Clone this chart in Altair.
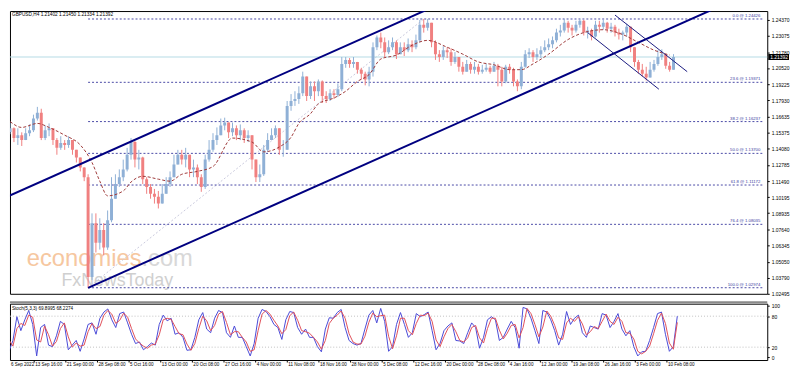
import json
import altair as alt
import pandas as pd

# ---------------- data ----------------
symbol_header = "GBPUSD,H4  1.21402 1.21450 1.21334 1.21392"
stoch_header = "Stoch(5,3,3) 69.8995 68.2274"

first_open = 1.1540
close = [1.1570,1.1492,1.1515,1.1476,1.1531,1.1554,1.1648,1.1694,1.1492,1.1554,
         1.1570,1.1476,1.1414,1.1453,1.1437,1.1476,1.1398,1.1336,1.1258,1.1180,
         1.0384,1.0813,1.0657,1.0758,1.0618,1.0836,1.1008,1.1125,1.1180,1.1242,
         1.1359,1.1460,1.1320,1.1336,1.1164,1.1102,1.1047,1.1024,1.0969,1.1047,
         1.1125,1.1180,1.1281,1.1359,1.1320,1.1359,1.1242,1.1258,1.1180,1.1102,
         1.1320,1.1398,1.1476,1.1515,1.1593,1.1616,1.1538,1.1570,1.1515,1.1554,
         1.1492,1.1515,1.1320,1.1180,1.1203,1.1398,1.1476,1.1515,1.1570,1.1398,
         1.1398,1.1749,1.1788,1.1804,1.1850,1.1983,1.1827,1.1905,1.1866,1.1944,
         1.1827,1.1804,1.1850,1.1835,1.1882,1.2084,1.2116,1.2084,1.2100,1.2038,
         1.2006,1.1960,1.2022,1.2217,1.2295,1.2256,1.2178,1.2217,1.2256,1.2162,
         1.2217,1.2194,1.2240,1.2217,1.2272,1.2396,1.2373,1.2412,1.2256,1.2162,
         1.2139,1.2194,1.2178,1.2100,1.2139,1.2061,1.2022,1.2084,1.2038,1.2061,
         1.2022,1.2038,1.2053,1.2022,1.2069,1.2038,1.1944,1.2061,1.2038,1.1944,
         1.1905,1.2061,1.2162,1.2178,1.2139,1.2162,1.2194,1.2217,1.2240,1.2272,
         1.2334,1.2350,1.2412,1.2373,1.2350,1.2396,1.2428,1.2334,1.2350,1.2303,
         1.2396,1.2381,1.2412,1.2365,1.2381,1.2334,1.2318,1.2334,1.2381,1.2217,
         1.2100,1.2038,1.2006,1.1975,1.2038,1.2084,1.2139,1.2162,1.2069,1.2038,
         1.2139]
high = [1.1616,1.1577,1.1570,1.1538,1.1570,1.1601,1.1679,1.1741,1.1726,1.1593,
        1.1609,1.1570,1.1492,1.1507,1.1476,1.1507,1.1476,1.1398,1.1336,1.1258,
        1.1203,1.0891,1.0891,1.0852,1.0813,1.0914,1.1180,1.1203,1.1242,1.1320,
        1.1414,1.1492,1.1468,1.1398,1.1343,1.1180,1.1125,1.1086,1.1070,1.1125,
        1.1180,1.1226,1.1359,1.1398,1.1398,1.1414,1.1359,1.1320,1.1281,1.1203,
        1.1359,1.1476,1.1531,1.1577,1.1648,1.1655,1.1616,1.1616,1.1593,1.1601,
        1.1570,1.1554,1.1515,1.1320,1.1281,1.1437,1.1531,1.1570,1.1593,1.1570,
        1.1476,1.1788,1.1843,1.1866,1.1905,1.2022,1.1983,1.1944,1.1944,1.1960,
        1.1952,1.1866,1.1882,1.1882,1.1928,1.2139,1.2139,1.2131,1.2139,1.2100,
        1.2053,1.2022,1.2061,1.2256,1.2311,1.2334,1.2295,1.2272,1.2295,1.2272,
        1.2256,1.2256,1.2287,1.2272,1.2318,1.2435,1.2443,1.2443,1.2412,1.2272,
        1.2194,1.2225,1.2217,1.2209,1.2178,1.2139,1.2100,1.2116,1.2100,1.2100,
        1.2084,1.2077,1.2084,1.2069,1.2100,1.2084,1.2061,1.2077,1.2084,1.2053,
        1.1960,1.2100,1.2194,1.2209,1.2194,1.2209,1.2225,1.2272,1.2287,1.2303,
        1.2365,1.2396,1.2443,1.2428,1.2396,1.2428,1.2440,1.2435,1.2381,1.2365,
        1.2428,1.2428,1.2435,1.2420,1.2412,1.2396,1.2365,1.2350,1.2404,1.2381,
        1.2217,1.2116,1.2084,1.2061,1.2100,1.2116,1.2194,1.2201,1.2162,1.2100,
        1.2162]
low = [1.1523,1.1460,1.1437,1.1429,1.1476,1.1507,1.1540,1.1632,1.1476,1.1476,
       1.1507,1.1437,1.1359,1.1398,1.1398,1.1414,1.1359,1.1297,1.1226,1.1148,
       1.0297,1.0360,1.0579,1.0602,1.0556,1.0600,1.0820,1.1008,1.1102,1.1148,
       1.1226,1.1320,1.1258,1.1242,1.1125,1.1047,1.1008,1.0969,1.0930,1.0969,
       1.1047,1.1102,1.1180,1.1281,1.1281,1.1258,1.1180,1.1180,1.1125,1.1063,
       1.1086,1.1304,1.1382,1.1437,1.1515,1.1554,1.1492,1.1507,1.1476,1.1476,
       1.1453,1.1460,1.1242,1.1141,1.1141,1.1190,1.1382,1.1476,1.1492,1.1359,
       1.1343,1.1398,1.1710,1.1749,1.1765,1.1827,1.1788,1.1804,1.1788,1.1827,
       1.1772,1.1772,1.1788,1.1804,1.1819,1.1866,1.2053,1.2053,1.2053,1.2006,
       1.1960,1.1913,1.1905,1.1983,1.2194,1.2209,1.2139,1.2162,1.2194,1.2123,
       1.2162,1.2147,1.2178,1.2178,1.2201,1.2256,1.2334,1.2350,1.2217,1.2116,
       1.2100,1.2116,1.2131,1.2069,1.2084,1.2022,1.1999,1.2022,1.2006,1.2006,
       1.1999,1.2006,1.2022,1.2006,1.2022,1.1905,1.1905,1.1930,1.2006,1.1905,
       1.1866,1.1882,1.2053,1.2131,1.2100,1.2116,1.2131,1.2178,1.2194,1.2209,
       1.2256,1.2303,1.2334,1.2334,1.2311,1.2334,1.2373,1.2311,1.2287,1.2272,
       1.2295,1.2334,1.2357,1.2334,1.2334,1.2303,1.2279,1.2272,1.2303,1.2178,
       1.2061,1.2006,1.1983,1.1952,1.1975,1.2022,1.2069,1.2116,1.2045,1.2022,
       1.2038]

ma_idx = [0,3,7,10,14,18,21,23,25,29,31,34,38,41,44,48,52,57,62,65,
          69,72,74,77,79,83,86,89,92,95,99,103,107,112,116,120,124,128,131,134,
          138,143,147,152,157,161,165,169]
ma_val = [1.1624,1.1577,1.1609,1.1577,1.1515,1.1437,1.1297,1.1148,1.1031,1.1070,
          1.1141,1.1187,1.1164,1.1148,1.1203,1.1226,1.1265,1.1492,1.1460,1.1382,
          1.1421,1.1499,1.1609,1.1687,1.1765,1.1812,1.1866,1.1944,1.1999,1.2123,
          1.2155,1.2233,1.2272,1.2217,1.2162,1.2100,1.2077,1.2038,1.2038,1.2084,
          1.2162,1.2279,1.2334,1.2357,1.2318,1.2256,1.2194,1.2155]

stoch_k = [55,12,33,79,52,73,91,64,3,58, 64,24,21,42,70,64,15,24,33,12,
           36,64,67,45,76,88,94,73,58,85, 88,67,45,27,30,15,21,28,24,64,
           82,71,76,45,48,39,14,15,39,73, 87,55,48,76,91,87,48,39,61,39,
           39,21,3,27,76,93,89,79,64,58, 35,73,89,87,58,45,55,39,39,21,
           11,55,77,76,87,93,58,33,27,24, 27,55,82,91,67,95,70,12,21,64,
           87,64,39,48,85,79,83,88,52,15, 27,52,61,67,33,32,27,48,67,58,
           18,39,73,79,73,33,39,55,70,58, 18,97,94,76,52,27,91,88,73,52,
           24,45,89,64,76,82,48,39,61,58, 55,85,82,58,70,85,55,42,52,21,
           3,11,12,33,58,85,88,45,12,21, 80]
stoch_d = [60,34,22,56,66,62,82,78,34,30, 61,44,22,31,56,67,40,20,28,22,
           24,50,66,56,60,82,91,84,66,72, 86,78,56,36,28,22,18,24,26,44,
           73,76,74,60,46,44,26,14,27,56, 80,71,52,62,84,89,68,44,50,50,
           39,30,12,15,52,84,91,84,72,61, 46,54,81,88,72,52,50,47,39,30,
           16,33,66,76,82,90,76,46,30,26, 26,41,68,86,79,81,82,41,17,42,
           76,76,52,44,66,82,81,86,70,34, 21,40,56,64,50,33,30,38,58,62,
           38,28,56,76,76,53,36,47,62,64, 38,58,95,85,64,40,59,90,80,62,
           38,35,67,76,70,79,65,44,50,60, 56,70,84,70,64,78,70,48,47,36,
           12,7,12,22,46,72,86,66,28,16, 68]

fib_pct = ["0.0", "23.6", "38.2", "50.0", "61.8", "76.4", "100.0"]
fib_price = [1.24426, 1.19371, 1.16237, 1.13700, 1.11172, 1.08035, 1.02974]
fib_start_idx = 20
last_price = 1.21392

price_ticks = [1.24370, 1.23075, 1.21780, 1.20520, 1.19225, 1.17930, 1.16635,
               1.15375, 1.14080, 1.12785, 1.11490, 1.10195, 1.08935, 1.07640,
               1.06345, 1.05050, 1.03790, 1.02495]
stoch_ticks = [0, 20, 80, 100]
date_labels = ["6 Sep 2022", "13 Sep 16:00", "21 Sep 00:00", "28 Sep 08:00",
               "5 Oct 16:00", "13 Oct 00:00", "20 Oct 08:00", "27 Oct 16:00",
               "4 Nov 00:00", "11 Nov 08:00", "18 Nov 16:00", "28 Nov 00:00",
               "5 Dec 08:00", "12 Dec 16:00", "20 Dec 00:00", "28 Dec 08:00",
               "4 Jan 16:00", "12 Jan 00:00", "19 Jan 08:00", "26 Jan 16:00",
               "3 Feb 00:00", "10 Feb 08:00"]

channel_name = ["upper", "upper", "lower", "lower"]
channel_idx = [-1, 110, 20, 182]
channel_px = [1.1020, 1.2561, 1.0297, 1.2546]
desc_name = ["a", "a", "b", "b"]
desc_idx = [155, 173.5, 148, 166.25]
desc_px = [1.2474, 1.2022, 1.2334, 1.1882]
fib_diag_idx = [20, 106]
fib_diag_px = [1.02974, 1.24426]

# ---------------- layout / style ----------------
W, H1, H2 = 766, 286, 57
X0, X1 = 1.25, 192.75
P0, P1 = 1.0249, 1.2506
S0, S1 = -4.9, 104.2
UP, DOWN = "#8fb0d6", "#f08080"
NAVY = "#000080"
FONT = "Liberation Sans"

opens = [first_open] + close[:-1]
n = len(close)
candles = pd.DataFrame({"i": list(range(n)), "open": opens, "close": close,
                        "high": high, "low": low})
candles["top"] = candles[["open", "close"]].max(axis=1)
candles["bot"] = candles[["open", "close"]].min(axis=1)
candles["dir"] = ["up" if c >= o else "down" for o, c in zip(opens, close)]

ma_df = pd.DataFrame({"i": ma_idx, "ma": ma_val})
st_df = pd.DataFrame({"i": list(range(len(stoch_k))), "k": stoch_k, "d": stoch_d})
fib_df = pd.DataFrame({"level": fib_price,
                       "label": [f"{p} @ {v:.5f}" for p, v in zip(fib_pct, fib_price)],
                       "x0": [fib_start_idx] * len(fib_price),
                       "x1": [X1] * len(fib_price)})
ch_df = pd.DataFrame({"line": channel_name, "i": channel_idx, "p": channel_px})
desc_df = pd.DataFrame({"line": desc_name, "i": desc_idx, "p": desc_px})
diag_df = pd.DataFrame({"i": fib_diag_idx, "p": fib_diag_px})
last_df = pd.DataFrame({"p": [last_price], "hi": [last_price + 0.0024],
                        "lo": [last_price - 0.0024], "t": [f"{last_price:.5f}"]})

xs = alt.Scale(domain=[X0, X1], nice=False, zero=False)
ys = alt.Scale(domain=[P0, P1], nice=False, zero=False)
ss = alt.Scale(domain=[S0, S1], nice=False, zero=False)

price_axis = alt.Axis(orient="right", values=price_ticks, format=".5f",
                      labelFontSize=5, labelFont=FONT, labelColor="#000000",
                      tickSize=2, tickColor="#000000", domain=False, grid=False,
                      title=None, labelOverlap=False, labelFlush=False, labelPadding=2)
stoch_axis = alt.Axis(orient="right", values=stoch_ticks, labelFontSize=5,
                      labelFont=FONT, labelColor="#000000", tickSize=2,
                      tickColor="#000000", domain=False, grid=False, title=None,
                      labelOverlap=False, labelFlush=False, labelPadding=2)
tick_vals = [-0.75 + 8 * k for k in range(1, len(date_labels))]
label_expr = json.dumps(date_labels) + "[round((datum.value + 0.75) / 8)]"
time_axis = alt.Axis(values=tick_vals, labelExpr=label_expr, labelAlign="left",
                     labelOffset=1, labelFontSize=4.6, labelFont=FONT,
                     labelColor="#000000", tickSize=2, tickColor="#000000",
                     labelPadding=0, domain=False, grid=False, title=None,
                     labelOverlap=False, labelFlush=False, labelBound=False)


def MX(f):
    return alt.X(f, type="quantitative", scale=xs, axis=None)


def MY(f):
    return alt.Y(f, type="quantitative", scale=ys, axis=price_axis)


def SX(f):
    return alt.X(f, type="quantitative", scale=xs, axis=time_axis)


def SY(f):
    return alt.Y(f, type="quantitative", scale=ss, axis=stoch_axis)


def label(text, **kw):
    return alt.Chart(pd.DataFrame({"t": [text]})).mark_text(**kw)


color = alt.Color("dir:N", scale=alt.Scale(domain=["up", "down"], range=[UP, DOWN]),
                  legend=None)

wm1 = label("economies", align="left", baseline="alphabetic", font=FONT, fontSize=24,
            color="#f6c7a0").encode(x=alt.value(17), y=alt.value(258), text="t:N")
wm2 = label(".com", align="left", baseline="alphabetic", font=FONT, fontSize=24,
            color="#d8d8d8").encode(x=alt.value(133), y=alt.value(258), text="t:N")
wm3 = label("FxNewsToday", align="left", baseline="alphabetic", font=FONT, fontSize=18,
            color="#cfcfcf").encode(x=alt.value(52), y=alt.value(278), text="t:N")

diag = alt.Chart(diag_df).mark_line(color="#c9c9dd", strokeWidth=1, strokeDash=[2, 2],
                                    clip=True).encode(x=MX("i"), y=MY("p"))
fib_rules = alt.Chart(fib_df).mark_rule(color="#4a4aa6", strokeWidth=1,
                                        strokeDash=[2, 2]).encode(
    x=MX("x0"), x2="x1", y=MY("level"))
fib_text = alt.Chart(fib_df).mark_text(align="right", baseline="bottom", dx=-2, dy=-1,
                                       font=FONT, fontSize=4.3, color="#3a3aa0").encode(
    x=MX("x1"), y=MY("level"), text="label:N")
last_rule = alt.Chart(last_df).mark_rule(color="#b5dbe5", strokeWidth=1).encode(y=MY("p"))

wicks = alt.Chart(candles).mark_rule(strokeWidth=1, clip=True).encode(
    x=MX("i"), y=MY("low"), y2="high", color=color)
bodies = alt.Chart(candles).mark_bar(size=3, clip=True).encode(
    x=MX("i"), y=MY("bot"), y2="top", color=color)
ma_line = alt.Chart(ma_df).mark_line(color="#9e3a3a", strokeWidth=1, strokeDash=[3, 2],
                                     interpolate="monotone", clip=True).encode(
    x=MX("i"), y=MY("ma"))
channels = alt.Chart(ch_df).mark_line(color=NAVY, strokeWidth=2, clip=True).encode(
    x=MX("i"), y=MY("p"), detail="line:N")
desc = alt.Chart(desc_df).mark_line(color="#1a1a80", strokeWidth=1, clip=True).encode(
    x=MX("i"), y=MY("p"), detail="line:N")
header = label(symbol_header, align="left", baseline="top", font=FONT, fontSize=4.8,
               color="#000000").encode(x=alt.value(2), y=alt.value(1), text="t:N")
box = alt.Chart(last_df).mark_rect(color="#000000").encode(
    y=MY("hi"), y2="lo", x=alt.value(W + 1), x2=alt.value(W + 22))
box_text = alt.Chart(last_df).mark_text(align="left", baseline="middle", font=FONT,
                                        fontSize=5, color="#ffffff").encode(
    y=MY("p"), x=alt.value(W + 3), text="t:N")

main = alt.layer(wm1, wm2, wm3, diag, fib_rules, fib_text, last_rule, wicks, bodies,
                 ma_line, channels, desc, header, box, box_text).properties(
    width=W, height=H1)

lvl_df = pd.DataFrame({"v": [20, 80]})
st_lines = alt.Chart(lvl_df).mark_rule(color="#c0c0c0", strokeWidth=1,
                                       strokeDash=[1, 2]).encode(y=SY("v"))
k_line = alt.Chart(st_df).mark_line(color="#4a4ad8", strokeWidth=1, clip=True).encode(
    x=SX("i"), y=SY("k"))
d_line = alt.Chart(st_df).mark_line(color="#e0505a", strokeWidth=1, clip=True).encode(
    x=SX("i"), y=SY("d"))
st_title = label(stoch_header, align="left", baseline="top", font=FONT, fontSize=4.7,
                 color="#000000").encode(x=alt.value(2), y=alt.value(2), text="t:N")
first_date = label(date_labels[0], align="left", baseline="top", font=FONT,
                   fontSize=4.6, color="#000000").encode(
    x=alt.value(1), y=alt.value(H2 + 2), text="t:N")
sep = alt.Chart(pd.DataFrame({"a": [0]})).mark_rule(color="#8a8a8a", strokeWidth=2).encode(
    y=alt.value(-1.5), x=alt.value(0), x2=alt.value(W))

stoch = alt.layer(st_lines, k_line, d_line, st_title, first_date, sep).properties(
    width=W, height=H2)

chart = alt.vconcat(main, stoch, spacing=3).properties(
    padding=0, background="#ffffff").configure_view(stroke="#000000", strokeWidth=1)

chart.save("out.html", embed_options={"renderer": "svg", "actions": False})
